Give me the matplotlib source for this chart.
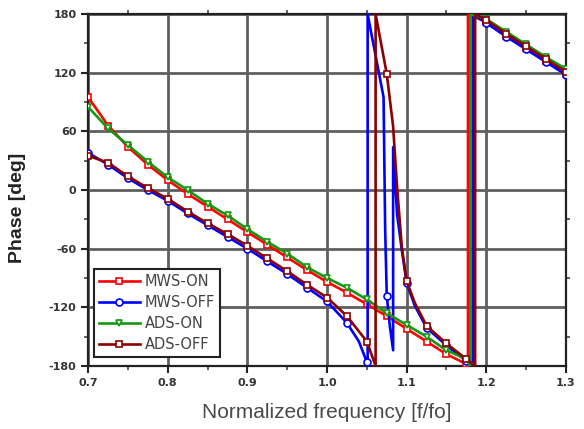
import numpy as np
import matplotlib
matplotlib.use("Agg")
import matplotlib.pyplot as plt

# ---- data ----
mws_on_x = [0.7, 0.725, 0.75, 0.775, 0.8, 0.825, 0.85, 0.875, 0.9, 0.925, 0.95, 0.975,
            1.0, 1.025, 1.05, 1.075, 1.1, 1.125, 1.15, 1.175, 1.177, 1.177,
            1.2, 1.225, 1.25, 1.275, 1.3]
mws_on_y = [95, 66, 44, 26, 10, -4, -17, -30, -43, -56, -69, -82,
            -94, -105, -117, -129, -142, -155, -168, -178, -180, 180,
            172, 158, 145, 132, 119]

mws_off_x = [0.7, 0.725, 0.75, 0.775, 0.8, 0.825, 0.85, 0.875, 0.9, 0.925, 0.95, 0.975,
             1.0, 1.025, 1.04, 1.05, 1.051, 1.051, 1.071, 1.073, 1.075, 1.079, 1.083, 1.083,
             1.088, 1.094, 1.1, 1.11, 1.125, 1.15, 1.175, 1.183, 1.183,
             1.2, 1.225, 1.25, 1.275, 1.3]
mws_off_y = [38, 26, 12, 0, -11, -24, -36, -48, -60, -73, -86, -100,
             -114, -136, -155, -176, -180, 180, 95, -40, -108, -140, -164, 44,
             -25, -62, -95, -118, -141, -159, -175, -180, 180,
             171, 157, 144, 131, 118]

ads_on_x = [0.7, 0.725, 0.75, 0.775, 0.8, 0.825, 0.85, 0.875, 0.9, 0.925, 0.95, 0.975,
            1.0, 1.025, 1.05, 1.075, 1.1, 1.125, 1.15, 1.175, 1.18, 1.18,
            1.2, 1.225, 1.25, 1.275, 1.3]
ads_on_y = [85, 63, 46, 29, 13, 0, -14, -26, -40, -53, -65, -79,
            -90, -100, -112, -126, -138, -150, -164, -173, -180, 180,
            175, 162, 149, 136, 124]

ads_off_x = [0.7, 0.725, 0.75, 0.775, 0.8, 0.825, 0.85, 0.875, 0.9, 0.925, 0.95, 0.975,
             1.0, 1.025, 1.05, 1.061, 1.061, 1.075, 1.083, 1.088, 1.094, 1.1, 1.11,
             1.125, 1.15, 1.175, 1.186, 1.186, 1.2, 1.225, 1.25, 1.275, 1.3]
ads_off_y = [35, 28, 14, 2, -9, -22, -34, -45, -57, -70, -83, -97,
             -110, -129, -155, -180, 180, 119, 65, 3, -59, -93, -115,
             -139, -157, -173, -180, 180, 174, 160, 147, 134, 121]

series = [
    ("MWS-ON", mws_on_x, mws_on_y, "#ff0000", "s"),
    ("MWS-OFF", mws_off_x, mws_off_y, "#0000ff", "o"),
    ("ADS-ON", ads_on_x, ads_on_y, "#119911", "v"),
    ("ADS-OFF", ads_off_x, ads_off_y, "#8b0000", "s"),
]

x_ticks = [0.7, 0.8, 0.9, 1.0, 1.1, 1.2, 1.3]
y_ticks = [-180, -120, -60, 0, 60, 120, 180]

fig = plt.figure(figsize=(5.84, 4.29), dpi=100)
ax = fig.add_axes([0.151, 0.147, 0.818, 0.820])

for label, xs, ys, col, mk in series:
    xs = np.asarray(xs)
    idx = [i for i, v in enumerate(xs) if abs(v * 40 - round(v * 40)) < 1e-6]
    ax.plot(xs, ys, color=col, lw=1.9, marker=mk, markevery=idx, ms=5,
            mfc="white", mec=col, mew=1.2, label=label, zorder=3)

ax.set_xlim(0.7, 1.3)
ax.set_ylim(-180, 180)
ax.set_xticks(x_ticks)
ax.set_yticks(y_ticks)
ax.set_xticks([0.75, 0.85, 0.95, 1.05, 1.15, 1.25], minor=True)
ax.set_yticks([-150, -90, -30, 30, 90, 150], minor=True)
ax.set_xticklabels(["0.7", "0.8", "0.9", "1.0", "1.1", "1.2", "1.3"])
ax.set_yticklabels(["-180", "-120", "-60", "0", "60", "120", "180"])

ax.grid(True, which="major", color="#5f5f5f", lw=2.0, zorder=1)
ax.set_axisbelow(True)
for sp in ax.spines.values():
    sp.set_linewidth(1.6)
    sp.set_color("#222222")

ax.tick_params(which="major", direction="out", length=5, width=1.5,
               labelsize=8, colors="#222222", top=False, right=False)
ax.tick_params(which="minor", direction="out", length=3, width=1.2,
               top=True, right=True, colors="#444444")
for t in ax.get_xticklabels() + ax.get_yticklabels():
    t.set_fontweight("bold")
    t.set_color("#333333")

ax.set_xlabel("Normalized frequency [f/fo]", fontsize=15, color="#4a4a4a",
              family=["Liberation Sans", "DejaVu Sans"])
ax.xaxis.set_label_coords(0.5, -0.105)
ax.set_ylabel("Phase [deg]", fontsize=14, fontweight="bold", color="#222222",
              family=["Liberation Sans", "DejaVu Sans"])
ax.yaxis.set_label_coords(-0.13, 0.45)

leg = ax.legend(loc="lower left", bbox_to_anchor=(0.012, 0.026), borderaxespad=0,
                fancybox=False, framealpha=1, edgecolor="#222222",
                handlelength=2.8, handletextpad=0.35, labelspacing=0.4,
                borderpad=0.35, prop={"size": 10.5, "family": "DejaVu Sans"})
leg.get_frame().set_linewidth(1.5)
for t in leg.get_texts():
    t.set_color("#444444")

fig.savefig("out.png", dpi=100)
